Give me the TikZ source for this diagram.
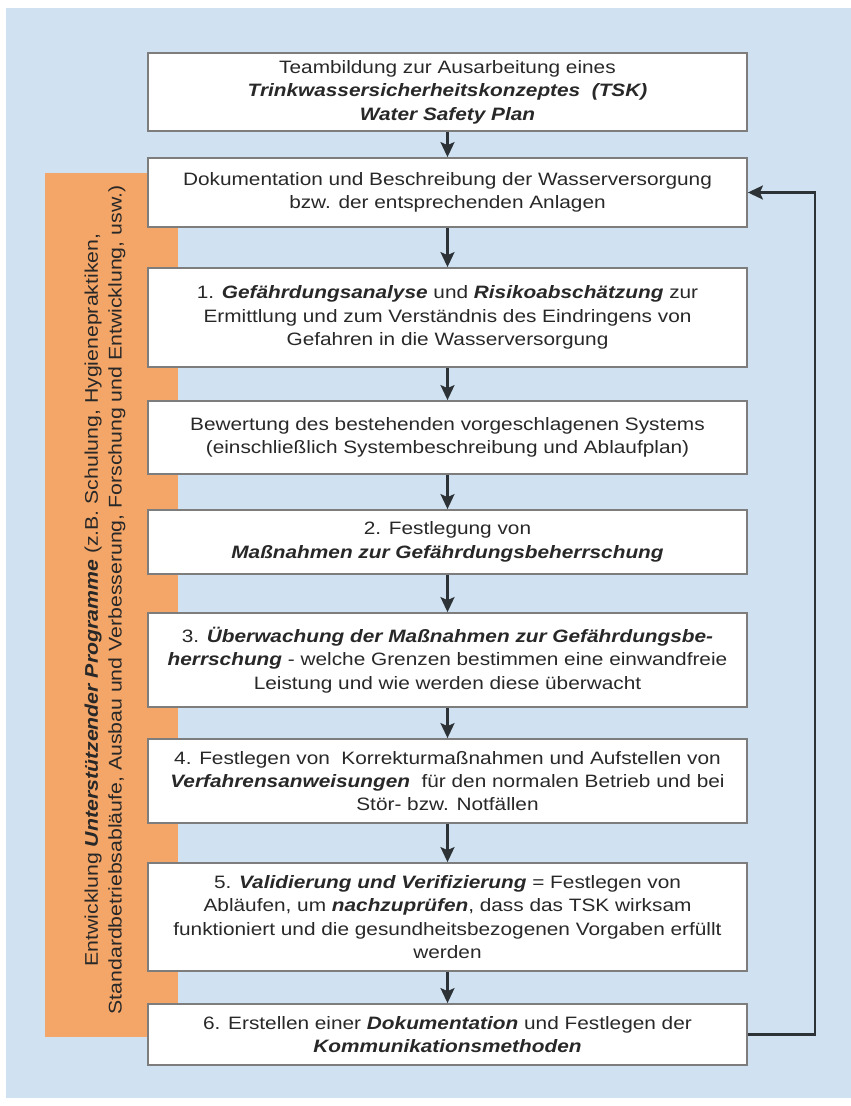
\documentclass[tikz,border=0pt]{standalone}
\usepackage{fontspec}
\setmainfont{Liberation Sans}[FakeStretch=1.16]
\usetikzlibrary{arrows.meta}
\definecolor{bgblue}{RGB}{208,226,242}
\definecolor{progorange}{RGB}{244,166,104}
\definecolor{boxgray}{RGB}{125,125,125}
\definecolor{textgray}{RGB}{40,40,40}
\definecolor{linegray}{RGB}{45,50,55}
\newcommand{\bi}[1]{\textbf{\textit{#1}}}

\begin{document}
\begin{tikzpicture}[x=1bp,y=-1bp,
    box/.style={draw=boxgray, line width=1.8bp, fill=white, minimum width=599bp,
      align=center, inner sep=0pt, text=textgray, font=\fontsize{18}{23.5}\selectfont},
    flow/.style={draw=linegray, line width=2.2bp, -{Stealth[width=14bp,length=15bp,inset=3bp]}}]
  \useasboundingbox (0,0) rectangle (851,1106);
  \fill[bgblue] (6,8) rectangle (851,1098);
  \fill[progorange] (45,173) rectangle (178,1037);
  \node[rotate=90, align=center, inner sep=0pt, text=textgray,
    font=\fontsize{18.4}{24}\selectfont] (prog) at (105,600)
    {Entwicklung \bi{Unterstützender Programme} (z.B. Schulung, Hygienepraktiken,\\
     Standardbetriebsabläufe, Ausbau und Verbesserung, Forschung und Entwicklung, usw.)};

  \node[box, minimum height=78bp] (team) at (447.5,92)
    {Teambildung zur Ausarbeitung eines\\
     \bi{Trinkwassersicherheitskonzeptes\ \ (TSK)}\\
     \bi{Water Safety Plan}};
  \node[box, minimum height=69bp] (desc) at (447.5,192.5)
    {Dokumentation und Beschreibung der Wasserversorgung\\
     bzw. der entsprechenden Anlagen};
  \node[box, minimum height=99bp] (step1) at (447.5,317.5)
    {1. \bi{Gefährdungsanalyse} und \bi{Risikoabschätzung} zur\\
     Ermittlung und zum Verständnis des Eindringens von\\
     Gefahren in die Wasserversorgung};
  \node[box, minimum height=73bp] (eval) at (447.5,437.5)
    {Bewertung des bestehenden vorgeschlagenen Systems\\
     (einschließlich Systembeschreibung und Ablaufplan)};
  \node[box, minimum height=64bp] (step2) at (447.5,542)
    {2. Festlegung von\\
     \bi{Maßnahmen zur Gefährdungsbeherrschung}};
  \node[box, minimum height=94bp] (step3) at (447.5,660)
    {3. \bi{Überwachung der Maßnahmen zur Gefährdungsbe-}\\
     \bi{herrschung} - welche Grenzen bestimmen eine einwandfreie\\
     Leistung und wie werden diese überwacht};
  \node[box, minimum height=84bp] (step4) at (447.5,781)
    {4. Festlegen von\ \ Korrekturmaßnahmen und Aufstellen von\\
     \bi{Verfahrensanweisungen}\ \ für den normalen Betrieb und bei\\
     Stör- bzw. Notfällen};
  \node[box, minimum height=108bp] (step5) at (447.5,917)
    {5. \bi{Validierung und Verifizierung} = Festlegen von\\
     Abläufen, um \bi{nachzuprüfen}, dass das TSK wirksam\\
     funktioniert und die gesundheitsbezogenen Vorgaben erfüllt\\
     werden};
  \node[box, minimum height=61bp] (step6) at (447.5,1034.5)
    {6. Erstellen einer \bi{Dokumentation} und Festlegen der\\
     \bi{Kommunikationsmethoden}};
  \coordinate (loop) at (815,600);

  \draw[flow] (team) -- (desc);
  \draw[flow] (desc) -- (step1);
  \draw[flow] (step1) -- (eval);
  \draw[flow] (eval) -- (step2);
  \draw[flow] (step2) -- (step3);
  \draw[flow] (step3) -- (step4);
  \draw[flow] (step4) -- (step5);
  \draw[flow] (step5) -- (step6);
  \draw[flow] (step6.east) -| (loop) |- (desc.east);
\end{tikzpicture}
\end{document}
